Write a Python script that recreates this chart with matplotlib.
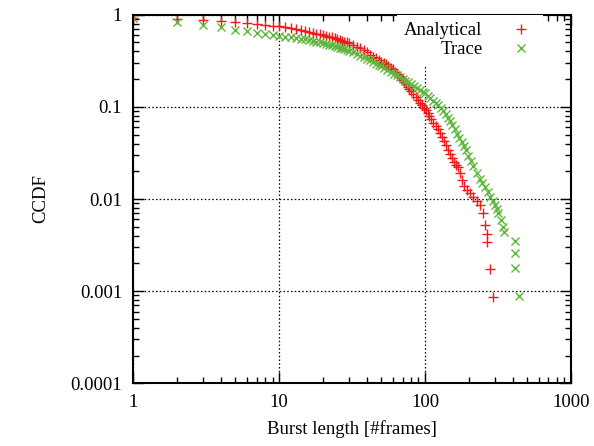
import matplotlib.pyplot as plt
from matplotlib.ticker import LogLocator, FixedLocator, FixedFormatter, NullFormatter

plt.rcParams['font.family'] = ['Liberation Serif', 'DejaVu Serif']

# Analytical CCDF
ana_x = [1, 2, 3, 4, 5, 6, 7, 8, 9, 10, 11, 12, 13, 14, 15, 16, 17, 18, 19, 20,
         21, 22, 23, 24, 25, 26, 27, 28, 29, 30, 32, 34, 36, 38, 40, 42, 44, 46, 48, 50,
         52, 54, 56, 58, 60, 62, 64, 66, 68, 70, 72, 74, 76, 78, 80, 83, 86, 89, 92, 95,
         98, 101, 104, 107, 110, 114, 118, 122, 126, 130, 134, 138, 144, 148, 152, 158,
         164, 169, 174, 178, 186, 195, 204, 214, 226, 238, 251, 257, 264, 265, 279, 291]
ana_y = [0.91, 0.90, 0.875, 0.855, 0.83, 0.81, 0.795, 0.775, 0.76, 0.745, 0.73, 0.715,
         0.70, 0.685, 0.67, 0.655, 0.64, 0.625, 0.61, 0.60, 0.59, 0.58, 0.57, 0.56, 0.55,
         0.535, 0.52, 0.51, 0.50, 0.49, 0.47, 0.45, 0.43, 0.41, 0.39, 0.37, 0.35, 0.335,
         0.32, 0.31, 0.30, 0.29, 0.275, 0.265, 0.255, 0.24, 0.23, 0.215, 0.205, 0.195,
         0.185, 0.175, 0.165, 0.155, 0.148, 0.138, 0.128, 0.118, 0.11, 0.104, 0.098,
         0.092, 0.085, 0.079, 0.073, 0.067, 0.062, 0.057, 0.052, 0.047, 0.043, 0.039,
         0.034, 0.031, 0.0277, 0.025, 0.0235, 0.0224, 0.019, 0.016, 0.014, 0.0125,
         0.0115, 0.0104, 0.0095, 0.0086, 0.0070, 0.0052, 0.0042, 0.0034, 0.00173, 0.000857]

# Trace CCDF
tr_x = [1, 2, 3, 4, 5, 6, 7, 8, 9, 10, 11, 12, 13, 14, 15, 16, 17, 18, 19, 20,
        21, 22, 23, 24, 25, 26, 27, 28, 29, 30, 32, 34, 36, 38, 40, 42, 44, 46, 48, 50,
        52, 55, 58, 61, 64, 67, 70, 73, 76, 80, 84, 88, 92, 96, 100, 104, 108, 113, 118,
        123, 128, 133, 138, 143, 148, 154, 160, 166, 172, 178, 184, 190, 198, 206, 214,
        226, 236, 246, 257, 268, 279, 290, 301, 310, 318, 330, 343, 345, 413, 414, 415, 442]
tr_y = [0.91, 0.827, 0.773, 0.736, 0.69, 0.66, 0.635, 0.615, 0.60, 0.59, 0.58, 0.57,
        0.56, 0.55, 0.54, 0.53, 0.52, 0.51, 0.50, 0.49, 0.48, 0.47, 0.465, 0.455, 0.45,
        0.44, 0.43, 0.42, 0.415, 0.405, 0.39, 0.375, 0.36, 0.345, 0.33, 0.32, 0.305,
        0.295, 0.285, 0.275, 0.265, 0.25, 0.24, 0.23, 0.22, 0.21, 0.20, 0.19, 0.185,
        0.178, 0.17, 0.162, 0.154, 0.146, 0.14, 0.131, 0.125, 0.117, 0.11, 0.104, 0.097,
        0.09, 0.083, 0.076, 0.07, 0.063, 0.057, 0.051, 0.046, 0.042, 0.038, 0.034, 0.029,
        0.026, 0.023, 0.019, 0.0165, 0.015, 0.0136, 0.012, 0.0106, 0.0096, 0.0086, 0.0078,
        0.007, 0.0059, 0.005, 0.0044, 0.0035, 0.0026, 0.00177, 0.00089]

x_ticks = [1, 10, 100, 1000]
x_labels = ["1", "10", "100", "1000"]
y_ticks = [0.0001, 0.001, 0.01, 0.1, 1]
y_labels = ["0.0001", "0.001", "0.01", "0.1", "1"]

fig = plt.figure(figsize=(5.94, 4.46), dpi=100)
ax = fig.add_axes([0.2244, 0.1406, 0.7369, 0.8264])

ax.plot(ana_x, ana_y, linestyle='none', marker='+', ms=6.5, mew=1.0,
        color='#f01a1a', label='Analytical')
ax.plot(tr_x, tr_y, linestyle='none', marker='x', ms=5.5, mew=1.0,
        color='#5cb83c', label='Trace')

ax.set_xscale('log')
ax.set_yscale('log')
ax.set_xlim(1, 1000)
ax.set_ylim(0.0001, 1)

ax.xaxis.set_major_locator(FixedLocator(x_ticks))
ax.xaxis.set_major_formatter(FixedFormatter(x_labels))
ax.yaxis.set_major_locator(FixedLocator(y_ticks))
ax.yaxis.set_major_formatter(FixedFormatter(y_labels))
ax.xaxis.set_minor_locator(LogLocator(base=10, subs=range(2, 10)))
ax.yaxis.set_minor_locator(LogLocator(base=10, subs=range(2, 10)))
ax.xaxis.set_minor_formatter(NullFormatter())
ax.yaxis.set_minor_formatter(NullFormatter())

ax.tick_params(which='both', direction='in', top=True, right=True, labelsize=13.5, width=1)
ax.tick_params(which='major', length=8, pad=8)
ax.tick_params(which='minor', length=4)
for s in ax.spines.values():
    s.set_linewidth(1.5)

ax.grid(True, which='major', color='black', linestyle=(0, (1.2, 1.8)), linewidth=0.9)
ax.set_axisbelow(True)

ax.set_xlabel("Burst length [#frames]", fontsize=13.5, labelpad=6)
ax.set_ylabel("CCDF", fontsize=13.5, labelpad=15)

leg = ax.legend(loc='upper right', bbox_to_anchor=(0.935, 1.0), markerfirst=False,
                fontsize=13.5, handlelength=1.5, handletextpad=1.3, labelspacing=0.1,
                borderpad=0.4, borderaxespad=0, fancybox=False, framealpha=1)
leg.get_frame().set_edgecolor('none')
leg.get_frame().set_linewidth(0)

fig.savefig("out.png", dpi=100)
